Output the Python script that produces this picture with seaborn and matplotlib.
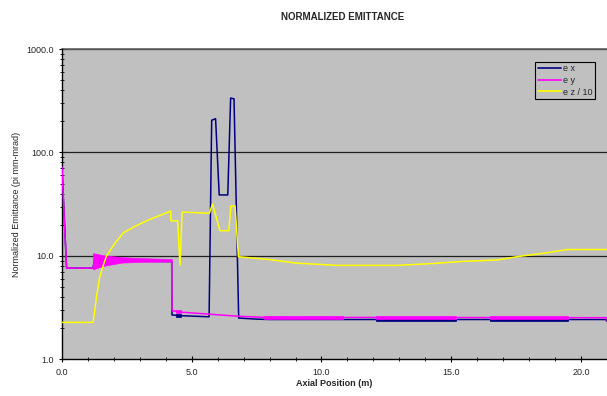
import matplotlib
matplotlib.use("Agg")
import matplotlib.pyplot as plt
import matplotlib.ticker as mticker
import seaborn as sns
import pandas as pd

# ---- data ----
ex_x = [0.0, 0.18, 1.2, 1.25, 4.23, 4.24, 4.5, 5.67, 5.77, 5.92, 6.06, 6.39, 6.50, 6.63, 6.81, 7.5, 8.0, 12.0, 16.0, 20.0, 20.95, 21.0]
ex_y = [72, 7.6, 7.6, 9.0, 8.8, 2.68, 2.64, 2.57, 205, 212, 38.8, 38.8, 336, 330, 2.5, 2.44, 2.42, 2.42, 2.42, 2.42, 2.42, 2.33]

ey_x = [0.0, 0.18, 1.2, 1.25, 4.23, 4.24, 4.6, 6.8, 7.8, 21.0, 21.0]
ey_y = [72, 7.6, 7.6, 9.0, 8.9, 2.95, 2.85, 2.6, 2.54, 2.52, 2.38]

ez_x = [0.0, 1.2, 1.27, 1.33, 1.46, 1.6, 1.72, 2.04, 2.36, 2.7, 3.0, 3.3, 3.65, 3.9, 4.19,
        4.2, 4.46, 4.55, 4.63,
        5.68, 5.8, 6.09, 6.43, 6.51, 6.67, 6.8, 8.0, 9.04, 10.6, 12.9, 14.2,
        15.5, 16.75, 17.65, 18.7, 19.45, 21.0]
ez_y = [2.27, 2.27, 3.0, 4.0, 6.3, 8.2, 10.0, 13.2, 16.6, 18.6, 20.3, 22.0, 23.9, 25.3, 27.1,
        21.8, 21.8, 8.1, 26.5,
        25.8, 31.7, 17.5, 17.5, 30.3, 30.3, 9.8, 9.2, 8.5, 8.08, 8.08, 8.4,
        8.85, 9.1, 9.9, 10.7, 11.5, 11.5]

# oscillation envelopes (rapidly oscillating regions)
ey_band_x  = [[1.2, 1.6, 2.3, 3.0, 4.23], [4.4, 4.6], [7.8, 10.84], [12.1, 15.2], [16.5, 19.5]]
ey_band_lo = [[7.4, 8.0, 8.6, 8.75, 8.8], [2.8, 2.8], [2.46, 2.46], [2.46, 2.46], [2.46, 2.46]]
ey_band_hi = [[10.6, 10.1, 9.7, 9.5, 9.3], [3.0, 3.0], [2.62, 2.62], [2.62, 2.62], [2.6, 2.6]]
ex_band_x  = [[4.4, 4.6], [12.1, 15.2], [16.5, 19.5]]
ex_band_lo = [[2.58, 2.58], [2.34, 2.34], [2.35, 2.35]]
ex_band_hi = [[2.72, 2.72], [2.45, 2.45], [2.45, 2.45]]

labels = ["e x", "e y", "e z / 10"]
colors = ["#000080", "#FF00FF", "#FFFF00"]

yticks = [1.0, 10.0, 100.0, 1000.0]
xticks = [0.0, 5.0, 10.0, 15.0, 20.0]

# ---- plot ----
sns.set_style("white")
plt.rcParams["font.family"] = ["Liberation Sans", "DejaVu Sans"]

fig = plt.figure(figsize=(6.07, 3.96), dpi=100)
ax = fig.add_axes([0.102, 0.093, 0.898, 0.783])
ax.set_facecolor("#C0C0C0")

ax.set_yscale("log")
ax.set_ylim(1.0, 1000.0)
ax.set_xlim(0, 21)

for y in yticks[1:]:
    ax.axhline(y, color="#202020", lw=0.9, zorder=1)

series = [(ex_x, ex_y), (ey_x, ey_y), (ez_x, ez_y)]
bands = {0: (ex_band_x, ex_band_lo, ex_band_hi), 1: (ey_band_x, ey_band_lo, ey_band_hi)}
for i, ((xs, ys), lab, c) in enumerate(zip(series, labels, colors)):
    df = pd.DataFrame({"x": xs, "y": ys})
    sns.lineplot(data=df, x="x", y="y", ax=ax, color=c, lw=1.1, label=lab,
                 estimator=None, sort=False, zorder=3 + i)
    if i in bands:
        bx, blo, bhi = bands[i]
        for xx, lo, hi in zip(bx, blo, bhi):
            ax.fill_between(xx, lo, hi, color=c, lw=0.5, zorder=3 + i)

ax.yaxis.set_major_locator(mticker.FixedLocator(yticks))
ax.yaxis.set_major_formatter(mticker.FixedFormatter([f"{v:.1f}" for v in yticks]))
ax.yaxis.set_minor_locator(mticker.LogLocator(base=10, subs=range(2, 10)))
ax.yaxis.set_minor_formatter(mticker.NullFormatter())
ax.xaxis.set_major_locator(mticker.FixedLocator(xticks))
ax.xaxis.set_major_formatter(mticker.FixedFormatter([f"{v:.1f}" for v in xticks]))
ax.xaxis.set_minor_locator(mticker.MultipleLocator(1.0))

ax.tick_params(axis="both", which="major", labelsize=6.5, direction="inout",
               length=4, width=0.8, color="black", pad=4, left=True, bottom=True)
ax.tick_params(axis="both", which="minor", direction="inout", length=3,
               width=0.6, color="black", left=True, bottom=True)

for s in ["top", "right"]:
    ax.spines[s].set_visible(False)
for s in ["left", "bottom"]:
    ax.spines[s].set_color("black")
    ax.spines[s].set_linewidth(1.0)
ax.axhline(1000.0, color="#606060", lw=1.2, zorder=2, clip_on=False)

ax.set_xlabel("Axial Position (m)", fontsize=6.5, fontweight="bold", labelpad=2)
ax.set_ylabel("Normalized Emittance (pi mm-mrad)", fontsize=6.5, labelpad=4)
fig.text(0.565, 0.958, "NORMALIZED EMITTANCE", ha="center", va="center",
         fontsize=7, fontweight="bold")

leg = ax.legend(loc="upper right", bbox_to_anchor=(0.978, 0.96), fontsize=6.5,
                frameon=True, fancybox=False, edgecolor="black",
                facecolor="#C0C0C0", framealpha=1, handlelength=2.6,
                handletextpad=0.2, borderpad=0.3, labelspacing=0.3,
                borderaxespad=0)
leg.get_frame().set_linewidth(0.8)
for h in leg.get_lines():
    h.set_linewidth(1.2)

fig.savefig("out.png", dpi=100)
